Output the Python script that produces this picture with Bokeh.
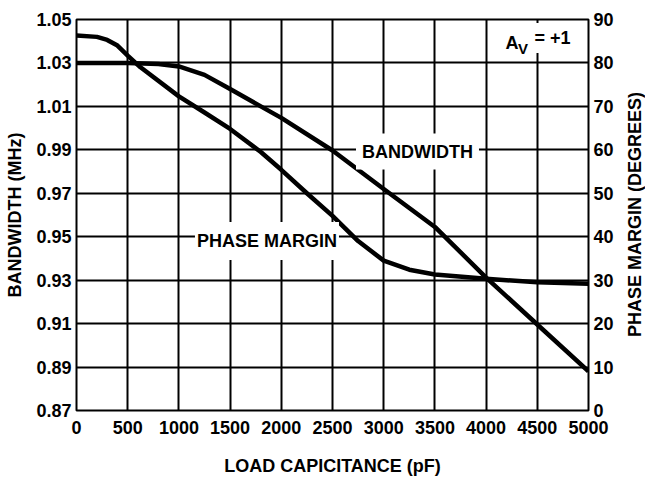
from bokeh.plotting import figure
from bokeh.models import Range1d, LinearAxis, FixedTicker, Label, PrintfTickFormatter, Div
from bokeh.layouts import row
from bokeh.embed import file_html
from bokeh.resources import INLINE

# ---- data ----
load_pf_bw = [0, 500, 800, 1000, 1250, 1500, 1800, 2000, 2500, 3000, 3500, 4000, 4500, 5000]
bandwidth_mhz = [1.030, 1.030, 1.0295, 1.0284, 1.0245, 1.018, 1.010, 1.0047, 0.9897, 0.972,
                 0.9545, 0.9312, 0.9096, 0.8880]

load_pf_pm = [0, 200, 300, 400, 500, 625, 1000, 1250, 1500, 1800, 2000, 2250, 2500, 2750,
              3000, 3250, 3500, 4000, 4500, 5000]
phase_margin_deg = [86.3, 86.0, 85.3, 84.0, 81.7, 79.0, 72.3, 68.6, 64.8, 59.5, 55.4, 50.0,
                    44.8, 39.0, 34.5, 32.4, 31.3, 30.3, 29.5, 29.2]

x_ticks = [0, 500, 1000, 1500, 2000, 2500, 3000, 3500, 4000, 4500, 5000]
bw_ticks = [0.87, 0.89, 0.91, 0.93, 0.95, 0.97, 0.99, 1.01, 1.03, 1.05]
pm_ticks = [0, 10, 20, 30, 40, 50, 60, 70, 80, 90]

x_label = "LOAD CAPICITANCE (pF)"
left_label = "BANDWIDTH (MHz)"
right_label = "PHASE MARGIN (DEGREES)"

FONT = "Liberation Sans"
FS = "18px"

p = figure(width=624, height=481, output_backend="svg", toolbar_location=None,
           x_range=Range1d(0, 5000), y_range=Range1d(0.87, 1.05),
           min_border_left=76, min_border_right=36, min_border_top=19, min_border_bottom=71)
p.extra_y_ranges = {"pm": Range1d(0, 90)}

p.background_fill_color = "white"
p.border_fill_color = "white"
p.outline_line_color = "black"
p.outline_line_width = 2

left_axis = p.left[0]
left_axis.ticker = FixedTicker(ticks=bw_ticks)
left_axis.formatter = PrintfTickFormatter(format="%.2f")
p.xaxis.ticker = FixedTicker(ticks=x_ticks)
p.xgrid.ticker = FixedTicker(ticks=x_ticks)
p.ygrid.ticker = FixedTicker(ticks=bw_ticks)
p.grid.grid_line_color = "black"
p.grid.grid_line_width = 2
p.grid.grid_line_alpha = 1.0

raxis = LinearAxis(y_range_name="pm", ticker=FixedTicker(ticks=pm_ticks))
p.add_layout(raxis, "right")

p.xaxis.axis_label = x_label
left_axis.axis_label = left_label

for ax in [p.xaxis[0], left_axis, raxis]:
    ax.axis_line_color = None
    ax.major_tick_line_color = None
    ax.minor_tick_line_color = None
    ax.major_tick_out = 0
    ax.major_tick_in = 0
    ax.minor_tick_out = 0
    ax.minor_tick_in = 0
    ax.major_label_text_font = FONT
    ax.major_label_text_font_style = "bold"
    ax.major_label_text_font_size = FS
    ax.major_label_text_color = "black"
    ax.axis_label_text_font = FONT
    ax.axis_label_text_font_style = "bold"
    ax.axis_label_text_font_size = FS
    ax.axis_label_text_color = "black"

p.xaxis.major_label_standoff = 10
p.xaxis.axis_label_standoff = 19
left_axis.major_label_standoff = 5
left_axis.axis_label_standoff = 8
raxis.major_label_standoff = 5

p.line(load_pf_bw, bandwidth_mhz, line_width=4.5, line_color="black", line_join="round")
p.line(load_pf_pm, phase_margin_deg, y_range_name="pm", line_width=4.5, line_color="black",
       line_join="round")

common = dict(text_font=FONT, text_font_style="bold", text_color="black")

p.add_layout(Label(x=3330, y=0.9892, text="BANDWIDTH", text_align="center",
                   text_baseline="middle", text_font_size=FS, padding=(6, 8),
                   background_fill_color="white", **common))
p.add_layout(Label(x=1860, y=0.948, text="PHASE MARGIN", text_align="center",
                   text_baseline="middle", text_font_size=FS, padding=(2, 9),
                   background_fill_color="white", **common))
p.add_layout(Label(x=4648, y=1.0415, text="= +1", text_align="center",
                   text_baseline="middle", text_font_size=FS, padding=(6, 5),
                   background_fill_color="white", **common))
p.add_layout(Label(x=4189, y=1.039, text="A", text_align="left",
                   text_baseline="alphabetic", text_font_size=FS, **common))
p.add_layout(Label(x=4312, y=1.0365, text="V", text_align="left",
                   text_baseline="alphabetic", text_font_size="15px", **common))

# right-hand axis title, reading bottom to top like the left one
right_title = Div(
    text=('<div style="height:391px; margin-top:19px; width:22px; writing-mode:vertical-rl; '
          'transform:rotate(180deg); text-align:center; font-family:\'Liberation Sans\'; '
          'font-weight:bold; font-size:18px; line-height:22px; white-space:nowrap; '
          'color:black;">' + right_label + '</div>'),
    width=22, height=481, margin=0)

layout = row(p, right_title, spacing=0)

open("out.html", "w").write(file_html(layout, INLINE))
